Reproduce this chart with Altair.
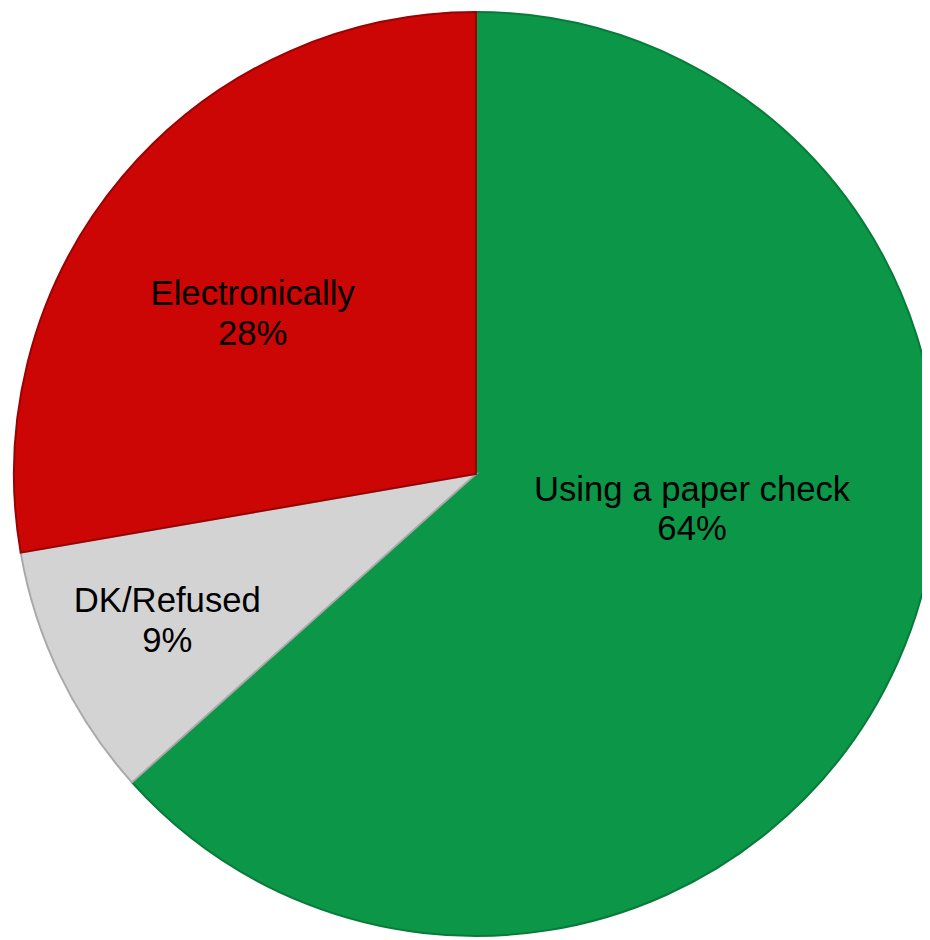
import altair as alt
import pandas as pd
import math

categories = ["Using a paper check", "DK/Refused", "Electronically"]
values = [64, 9, 28]
labels = ["Using a paper check\n64%", "DK/Refused\n9%", "Electronically\n28%"]
colors = ["#0b9747", "#d3d3d3", "#cc0505"]
edge_colors = ["#087a39", "#a9a9a9", "#9a0303"]

df = pd.DataFrame({"cat": categories, "value": values, "label": labels})
df["cum"] = df["value"].cumsum()
df["start"] = df["cum"] - df["value"]
df["mid"] = df["start"] + df["value"] / 2
total = float(sum(values))

CX, CY, R = 472, 466, 466

theta_scale = alt.Scale(domain=[0, total], range=[0, 2 * math.pi], zero=True, nice=False)

arcs = alt.Chart(df).mark_arc(strokeWidth=2).encode(
    theta=alt.Theta("start:Q", scale=theta_scale),
    theta2="cum:Q",
    x=alt.value(CX), y=alt.value(CY), radius=alt.value(R),
    color=alt.Color("cat:N", scale=alt.Scale(domain=categories, range=colors), legend=None),
    stroke=alt.Stroke("cat:N", scale=alt.Scale(domain=categories, range=edge_colors), legend=None),
)

label_style = {
    "Using a paper check": (218, 19, -73),
    "DK/Refused": (347, 1, -23),
    "Electronically": (280, -11, -1),
}

text_layers = []
for cat, (r, dx, dy) in label_style.items():
    t = alt.Chart(df).mark_text(
        font="Liberation Sans", fontSize=35, color="#000000", lineBreak="\n",
        lineHeight=40, align="center", baseline="middle", dx=dx, dy=dy,
    ).encode(
        theta=alt.Theta("mid:Q", scale=theta_scale),
        x=alt.value(CX), y=alt.value(CY), radius=alt.value(r),
        text="label:N",
    ).transform_filter(alt.datum.cat == cat)
    text_layers.append(t)

chart = alt.layer(arcs, *text_layers).properties(
    width=922, height=932, autosize=alt.AutoSizeParams(type="none"), padding=0,
    background="white",
).configure_view(strokeWidth=0, stroke=None)

chart.save("out.html", embed_options={"renderer": "svg", "actions": False})
